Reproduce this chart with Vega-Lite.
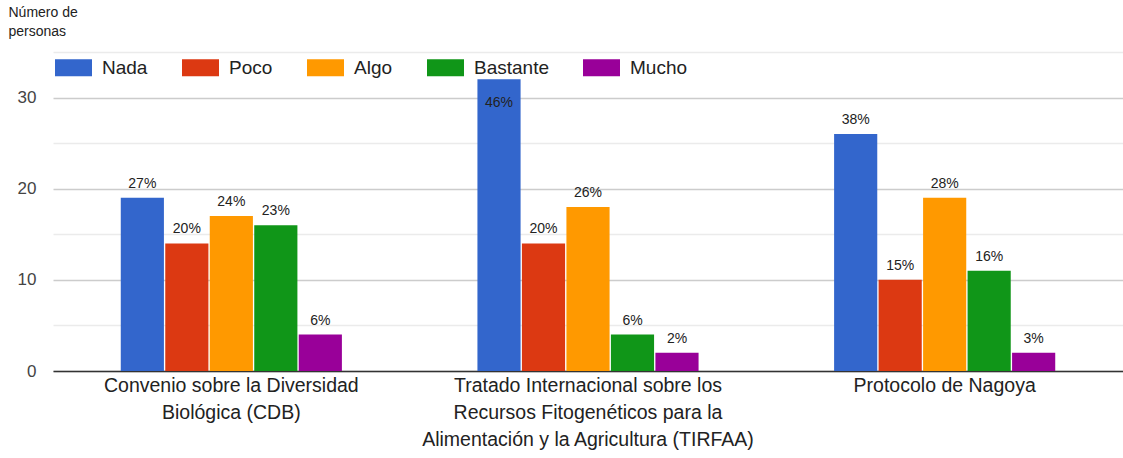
{
  "$schema": "https://vega.github.io/schema/vega-lite/v6.json",
  "width": 1070,
  "height": 319,
  "autosize": {"type": "none"},
  "padding": {"left": 53, "top": 52, "right": 0, "bottom": 87},
  "background": "white",
  "config": {
    "font": "Liberation Sans",
    "view": {"stroke": null}
  },
  "data": {
    "values": [
      {"convenio": "Convenio sobre la Diversidad Biológica (CDB)", "nivel": "Nada", "personas": 19, "pct": "27%"},
      {"convenio": "Convenio sobre la Diversidad Biológica (CDB)", "nivel": "Poco", "personas": 14, "pct": "20%"},
      {"convenio": "Convenio sobre la Diversidad Biológica (CDB)", "nivel": "Algo", "personas": 17, "pct": "24%"},
      {"convenio": "Convenio sobre la Diversidad Biológica (CDB)", "nivel": "Bastante", "personas": 16, "pct": "23%"},
      {"convenio": "Convenio sobre la Diversidad Biológica (CDB)", "nivel": "Mucho", "personas": 4, "pct": "6%"},
      {"convenio": "Tratado Internacional sobre los Recursos Fitogenéticos para la Alimentación y la Agricultura (TIRFAA)", "nivel": "Nada", "personas": 32, "pct": "46%"},
      {"convenio": "Tratado Internacional sobre los Recursos Fitogenéticos para la Alimentación y la Agricultura (TIRFAA)", "nivel": "Poco", "personas": 14, "pct": "20%"},
      {"convenio": "Tratado Internacional sobre los Recursos Fitogenéticos para la Alimentación y la Agricultura (TIRFAA)", "nivel": "Algo", "personas": 18, "pct": "26%"},
      {"convenio": "Tratado Internacional sobre los Recursos Fitogenéticos para la Alimentación y la Agricultura (TIRFAA)", "nivel": "Bastante", "personas": 4, "pct": "6%"},
      {"convenio": "Tratado Internacional sobre los Recursos Fitogenéticos para la Alimentación y la Agricultura (TIRFAA)", "nivel": "Mucho", "personas": 2, "pct": "2%"},
      {"convenio": "Protocolo de Nagoya", "nivel": "Nada", "personas": 26, "pct": "38%"},
      {"convenio": "Protocolo de Nagoya", "nivel": "Poco", "personas": 10, "pct": "15%"},
      {"convenio": "Protocolo de Nagoya", "nivel": "Algo", "personas": 19, "pct": "28%"},
      {"convenio": "Protocolo de Nagoya", "nivel": "Bastante", "personas": 11, "pct": "16%"},
      {"convenio": "Protocolo de Nagoya", "nivel": "Mucho", "personas": 2, "pct": "3%"}
    ]
  },
  "encoding": {
    "x": {
      "field": "convenio",
      "type": "nominal",
      "sort": null,
      "scale": {"paddingInner": 0.38, "paddingOuter": 0.19},
      "axis": {
        "title": null,
        "labelAngle": 0,
        "ticks": false,
        "labelFontSize": 19.5,
        "labelColor": "#222222",
        "labelPadding": 5,
        "labelBaseline": "top",
        "labelLineHeight": 27,
        "labelLimit": 0,
        "domainColor": "#333333",
        "domainWidth": 1.5,
        "labelExpr": "datum.label == 'Convenio sobre la Diversidad Biológica (CDB)' ? ['Convenio sobre la Diversidad', 'Biológica (CDB)'] : datum.label == 'Protocolo de Nagoya' ? 'Protocolo de Nagoya' : ['Tratado Internacional sobre los', 'Recursos Fitogenéticos para la', 'Alimentación y la Agricultura (TIRFAA)']"
      }
    },
    "xOffset": {
      "field": "nivel",
      "type": "nominal",
      "sort": ["Nada", "Poco", "Algo", "Bastante", "Mucho"],
      "scale": {"paddingInner": 0.03, "paddingOuter": 0}
    },
    "y": {
      "field": "personas",
      "type": "quantitative",
      "scale": {"domain": [0, 35], "nice": false},
      "axis": {
        "values": [0, 5, 10, 15, 20, 25, 30, 35],
        "labelExpr": "datum.value % 10 === 0 && datum.value < 35 ? datum.label : ''",
        "domain": false,
        "ticks": false,
        "labelFontSize": 17,
        "labelColor": "#444444",
        "labelPadding": 17,
        "gridColor": {"condition": {"test": "datum.value % 10 === 0", "value": "#cccccc"}, "value": "#ebebeb"},
        "gridWidth": 1.5,
        "title": ["Número de", "personas"],
        "titleAngle": 0,
        "titleAlign": "left",
        "titleBaseline": "top",
        "titleX": -45,
        "titleY": -47,
        "titleFontSize": 14,
        "titleFontWeight": "normal",
        "titleColor": "#222222",
        "titleLineHeight": 19
      }
    }
  },
  "layer": [
    {
      "mark": {"type": "bar", "strokeWidth": 0},
      "encoding": {
        "color": {
          "field": "nivel",
          "type": "nominal",
          "sort": ["Nada", "Poco", "Algo", "Bastante", "Mucho"],
          "scale": {
            "domain": ["Nada", "Poco", "Algo", "Bastante", "Mucho"],
            "range": ["#3366cc", "#dc3912", "#ff9900", "#109618", "#990099"]
          },
          "legend": {
            "title": null,
            "orient": "none",
            "direction": "horizontal",
            "columns": 5,
            "legendX": 2,
            "legendY": -3,
            "symbolType": "M-1,-0.46H1V0.46H-1Z",
            "symbolSize": 1369,
            "symbolStrokeWidth": 0,
            "symbolOpacity": 1,
            "labelFontSize": 19,
            "labelColor": "#222222",
            "labelOffset": 10,
            "columnPadding": 34,
            "labelLimit": 0
          }
        }
      }
    },
    {
      "transform": [{"filter": "datum.personas <= 30"}],
      "mark": {"type": "text", "baseline": "alphabetic", "dy": -10, "fontSize": 14, "color": "#222222"},
      "encoding": {"text": {"field": "pct"}}
    },
    {
      "transform": [{"filter": "datum.personas > 30"}],
      "mark": {"type": "text", "baseline": "top", "dy": 17, "fontSize": 14, "color": "#222222"},
      "encoding": {"text": {"field": "pct"}}
    }
  ]
}
